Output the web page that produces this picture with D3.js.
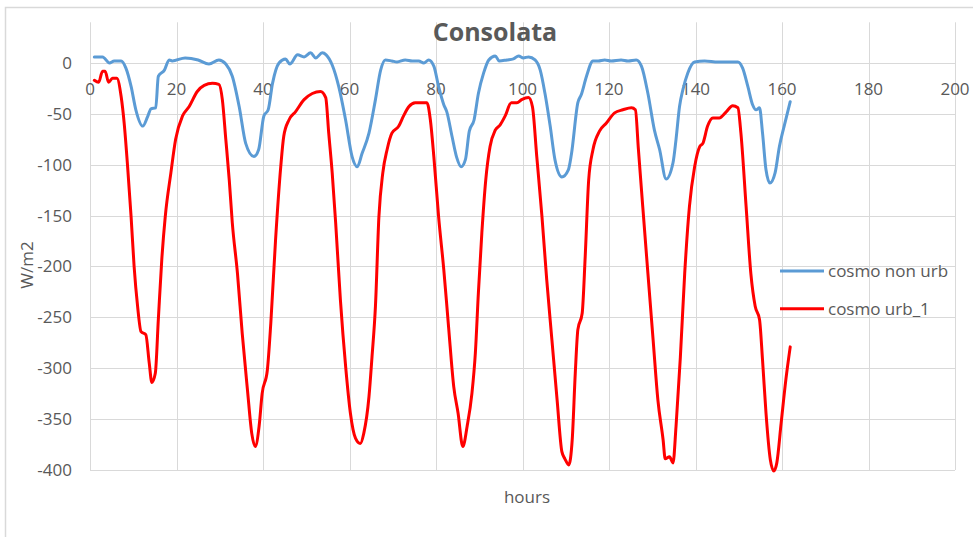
<!DOCTYPE html>
<html>
<head>
<meta charset="utf-8">
<script src="https://cdn.jsdelivr.net/npm/d3@7"></script>
<style>
  html, body { margin: 0; padding: 0; background: #fff; }
  svg { display: block; }
  text { font-family: "Open Sans", "Liberation Sans", sans-serif; fill: #595959; }
</style>
</head>
<body>
<svg id="chart" width="973" height="537"></svg>
<script>
// Hourly radiation difference at Consolata (W/m2)
const nonUrbHours = [1,2.9,4.5,5.6,7.2,8.3,9.5,10.6,12.2,13.3,14.1,15.2,15.8,17.2,18.3,19,22,25,27.5,29.8,31.4,32.9,34.5,36,37.9,39,40.2,41.2,42.2,43.7,45.2,46.2,48,49.5,51,52.2,53.7,54.6,56,57.5,59.1,60.6,61.8,62.9,64.5,66,67.2,68.3,69.8,71,72.9,74.5,76,77.2,78.3,79.5,80.6,81.8,82.5,83.7,84.8,85.8,86.8,87.7,88.8,89.8,91,92.2,93.7,94.6,96.4,97.9,99.1,100.2,101.4,102.9,104.1,105.2,106.4,107.5,109.1,110.6,111.3,112.8,113.6,114.8,116.3,117.5,119,120.5,122.8,124.4,126.3,127.5,129,130.5,131.7,133.2,134.8,135.5,136.3,137.1,138.2,139.8,142.1,145.2,148.2,149.8,150.9,152.1,153.2,154,154.8,155.5,156.3,157.2,158.4,159.4,160.5,161.9];
const nonUrbValues = [6,6,0,2,2,-5,-23,-46,-62,-53,-45,-44,-13,-7,3,2,5,3,-1,3,-1,-13,-43,-79,-92,-85,-52,-46,-20,0,4,-1,8,6,10,5,10,8,-2,-23,-56,-92,-102,-89,-69,-36,-7,3,2,1,3,2,2,0,3,-3,-23,-41,-48,-72,-93,-102,-95,-67,-56,-30,-10,3,7,2,3,4,7,5,6,3,-7,-30,-62,-95,-112,-105,-90,-39,-31,-13,2,2,3,2,3,2,3,-3,-30,-66,-85,-114,-98,-75,-43,-26,-10,1,2,1,1,1,-5,-23,-41,-46,-44,-69,-105,-118,-108,-82,-62,-38];

const urbHours = [1,2,2.9,3.5,4.3,5.2,6.2,7.2,7.9,8.7,9.5,10.2,11,11.8,12.9,13.7,14.3,15.1,15.8,16.6,17.4,18.7,19.8,21.4,22.9,24.8,26.4,28.3,29.8,30.6,31.4,32.2,32.9,34.1,35.2,36.4,37.4,38.2,39.1,39.8,41,41.8,42.9,44.1,44.8,46,47.5,49.5,51.4,53.3,54.5,55.2,56,56.8,57.9,59.1,60.2,61.4,62.5,63.3,64.5,65.2,66,66.8,67.7,68.7,69.8,71.4,72.5,73.7,75.2,76.8,77.9,78.7,79.5,80.6,81.8,82.9,84.1,85.1,86.2,87.2,88.3,89.1,89.8,90.6,91.5,92.5,93.7,94.8,96,97.4,98.7,99.8,101.4,102.3,103.3,104.5,105.6,106.8,108,109.1,109.8,110.7,111.5,112.2,112.8,113.8,114.5,115.3,116.3,117.8,119.4,121.3,123.2,125.2,126.1,126.8,127.8,129,130.2,131.3,132.5,133,134,134.8,135.5,136.5,137.5,138.6,139.8,141,141.7,142.8,144,145.5,147.1,148.6,149.8,150.5,151.7,152.8,153.8,154.8,155.5,156.3,157.3,158.1,158.8,159.8,160.9,161.9];
const urbValues = [-17,-19,-8,-8,-19,-15,-15,-33,-59,-102,-151,-200,-239,-264,-267,-295,-314,-305,-252,-193,-151,-108,-75,-52,-43,-28,-22,-20,-21,-36,-75,-115,-157,-207,-266,-321,-364,-377,-357,-325,-302,-256,-174,-102,-72,-56,-48,-36,-30,-28,-34,-69,-108,-157,-233,-298,-344,-369,-374,-364,-328,-289,-239,-151,-108,-85,-69,-62,-52,-43,-39,-39,-39,-56,-92,-151,-203,-259,-318,-344,-377,-357,-325,-285,-226,-167,-115,-82,-66,-61,-52,-39,-39,-36,-34,-43,-92,-151,-213,-272,-331,-382,-389,-395,-370,-305,-262,-246,-190,-115,-85,-67,-59,-49,-46,-44,-46,-85,-141,-207,-272,-331,-370,-389,-387,-393,-357,-289,-207,-141,-102,-82,-79,-62,-54,-54,-48,-42,-44,-69,-141,-207,-239,-252,-292,-344,-390,-401,-393,-354,-311,-279];

const seriesNames = ["cosmo non urb", "cosmo urb_1"];
const seriesColors = ["#5B9BD5", "#FF0000"];
const xTicks = [0,20,40,60,80,100,120,140,160,180,200];
const yTicks = [0,-50,-100,-150,-200,-250,-300,-350,-400];
const chartTitle = "Consolata";
const xTitle = "hours";
const yTitle = "W/m2";

const svg = d3.select("#chart");
const grid = "#d9d9d9";

// outer chart frame
svg.append("rect").attr("x", 5.5).attr("y", 7.5).attr("width", 1000).attr("height", 600)
  .attr("fill", "#fff").attr("stroke", grid).attr("stroke-width", 1.5);

const x = d3.scaleLinear().domain([0, 200]).range([90, 955]);
const y = d3.scaleLinear().domain([-400, 40]).range([470, 22.3]);

// gridlines
svg.append("g").selectAll("line").data(xTicks).join("line")
  .attr("x1", d => Math.round(x(d)) + 0.5).attr("x2", d => Math.round(x(d)) + 0.5)
  .attr("y1", y(40)).attr("y2", y(-400))
  .attr("stroke", grid).attr("stroke-width", 1);
svg.append("g").selectAll("line").data(yTicks).join("line")
  .attr("x1", x(0)).attr("x2", x(200))
  .attr("y1", d => Math.round(y(d)) + 0.5).attr("y2", d => Math.round(y(d)) + 0.5)
  .attr("stroke", grid).attr("stroke-width", 1.2);

// y axis labels
svg.append("g").selectAll("text").data(yTicks).join("text")
  .attr("x", 72).attr("y", d => y(d)).attr("dy", "0.35em")
  .attr("text-anchor", "end").style("font-size", "17px")
  .text(d => d);

// x axis labels sit just under the zero line
svg.append("g").selectAll("text").data(xTicks).join("text")
  .attr("x", d => x(d)).attr("y", y(0) + 26).attr("dy", "0.35em")
  .attr("text-anchor", "middle").style("font-size", "17px")
  .text(d => d);

// titles
svg.append("text").attr("x", 495).attr("y", 32).attr("dy", "0.35em")
  .attr("text-anchor", "middle").style("font-size", "25px").style("font-weight", "bold")
  .text(chartTitle);
svg.append("text").attr("x", 527).attr("y", 497).attr("dy", "0.35em")
  .attr("text-anchor", "middle").style("font-size", "17px").text(xTitle);
svg.append("text").attr("transform", "translate(27,265) rotate(-90)").attr("dy", "0.35em")
  .attr("text-anchor", "middle").style("font-size", "17px").text(yTitle);

// series lines
const line = d3.line().x(d => x(d[0])).y(d => y(d[1])).curve(d3.curveMonotoneX);
const series = [
  d3.zip(nonUrbHours, nonUrbValues),
  d3.zip(urbHours, urbValues)
];
svg.append("g").selectAll("path").data(series).join("path")
  .attr("d", line).attr("fill", "none")
  .attr("stroke", (d, i) => seriesColors[i]).attr("stroke-width", 3)
  .attr("stroke-linejoin", "round").attr("stroke-linecap", "round");

// legend
const legend = svg.append("g").selectAll("g").data(seriesNames).join("g")
  .attr("transform", (d, i) => `translate(780,${271 + i * 37.7})`);
legend.append("line").attr("x1", 0).attr("x2", 44).attr("y1", 0).attr("y2", 0)
  .attr("stroke", (d, i) => seriesColors[i]).attr("stroke-width", 3);
legend.append("text").attr("x", 48).attr("y", 0).attr("dy", "0.35em")
  .style("font-size", "17px").text(d => d);
</script>
</body>
</html>
